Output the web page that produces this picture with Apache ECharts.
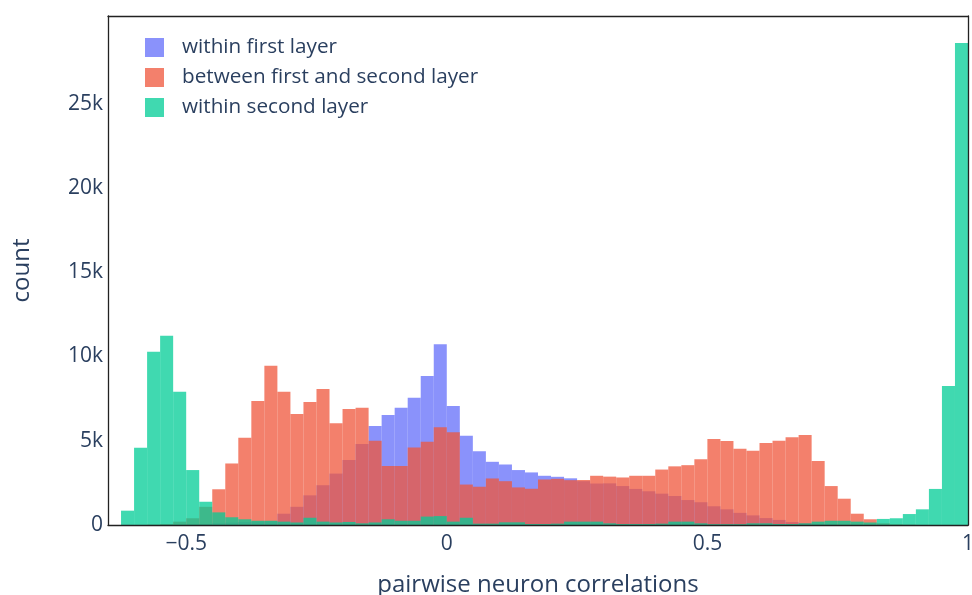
<!DOCTYPE html>
<html>
<head>
<meta charset="utf-8">
<script src="https://cdn.jsdelivr.net/npm/echarts@6/dist/echarts.min.js"></script>
<style>
html,body{margin:0;padding:0;background:#fff;}
#chart{width:972px;height:595px;}
</style>
</head>
<body>
<div id="chart"></div>
<script>
// ---- data ----
var binWidth = 0.025;
var binStarts = [-0.65,-0.625,-0.6,-0.575,-0.55,-0.525,-0.5,-0.475,-0.45,-0.425,-0.4,-0.375,-0.35,-0.325,-0.3,-0.275,-0.25,-0.225,-0.2,-0.175,-0.15,-0.125,-0.1,-0.075,-0.05,-0.025,
  0,0.025,0.05,0.075,0.1,0.125,0.15,0.175,0.2,0.225,0.25,0.275,0.3,0.325,0.35,0.375,0.4,0.425,0.45,0.475,0.5,0.525,0.55,0.575,0.6,0.625,0.65,0.675,0.7,0.725,0.75,0.775,0.8,0.825,0.85,0.875,0.9,0.925,0.95,0.975];
var withinFirst = [0,0,0,0,10,20,40,60,100,140,180,200,220,670,1080,1760,2360,3050,3850,4800,5870,6520,6960,7550,8840,10720,
  7060,5290,4380,3750,3590,3260,3120,2920,2860,2770,2600,2460,2470,2310,2140,2000,1860,1720,1480,1350,1110,930,720,570,410,300,170,100,60,30,20,10,0,0,0,0,0,0,0,0];
var betweenLayers = [0,0,0,20,50,200,400,1080,2120,3650,5180,7350,9450,7900,6580,7300,8070,6030,6880,6960,5000,3500,3500,4600,4940,5800,
  5500,2400,2270,2760,2600,2230,2150,2700,2740,2660,2670,2920,2870,2820,2920,2920,3290,3480,3550,3900,5100,4980,4530,4410,4870,5000,5200,5340,3800,2310,1560,670,340,100,40,20,0,0,0,0];
var withinSecond = [0,850,4580,10280,11230,7900,3260,1380,750,460,340,250,250,200,150,430,200,150,180,100,150,340,250,250,500,530,
  200,430,80,80,160,160,60,60,80,200,200,200,100,60,60,60,80,200,200,100,50,50,50,100,100,60,60,100,200,250,250,200,150,360,400,650,930,2140,8240,28600];
var seriesNames = ['within first layer','between first and second layer','within second layer'];
var xTickValues = [-0.5, 0, 0.5, 1];
var xTickLabels = ['\u22120.5', '0', '0.5', '1'];
var yTickValues = [0, 5000, 10000, 15000, 20000, 25000];
var yTickLabels = ['0', '5k', '10k', '15k', '20k', '25k'];

// ---- chart ----
var colors = ['rgba(99,110,250,0.75)', 'rgba(239,85,59,0.75)', 'rgba(0,204,150,0.75)'];
var textColor = '#2a3f5f';
var fontFamily = '"Open Sans", "DejaVu Sans", Arial, sans-serif';

function makeSeries(name, counts, color) {
  return {
    name: name,
    type: 'custom',
    xAxisIndex: 0,
    yAxisIndex: 0,
    clip: true,
    itemStyle: { color: color },
    data: binStarts.map(function (b, i) { return [b, counts[i]]; }),
    encode: { x: 0, y: 1 },
    renderItem: function (params, api) {
      var x0 = api.value(0);
      var c = api.value(1);
      var pTop = api.coord([x0, c]);
      var pBot = api.coord([x0 + binWidth, 0]);
      return {
        type: 'rect',
        shape: { x: pTop[0], y: pTop[1], width: pBot[0] - pTop[0], height: pBot[1] - pTop[1] },
        style: { fill: color }
      };
    }
  };
}

var chart = echarts.init(document.getElementById('chart'), null, { renderer: 'canvas' });
var axisLineStyle = { color: '#222', width: 1.3 };
chart.setOption({
  animation: false,
  backgroundColor: '#fff',
  textStyle: { fontFamily: fontFamily },
  grid: { left: 108, right: 4, top: 16, bottom: 70, containLabel: false, outerBoundsMode: 'none' },
  legend: {
    orient: 'vertical',
    left: 140,
    top: 32,
    itemWidth: 19,
    itemHeight: 19,
    itemGap: 9,
    data: seriesNames.map(function (n) { return { name: n, icon: 'rect' }; }),
    textStyle: { color: textColor, fontSize: 20.7, lineHeight: 19, fontFamily: fontFamily, padding: [0, 0, 0, 13] }
  },
  xAxis: [{
    type: 'value', position: 'bottom', min: -0.65, max: 1.0, z: 10,
    name: 'pairwise neuron correlations', nameLocation: 'middle', nameGap: 48,
    nameTextStyle: { color: textColor, fontSize: 24, fontFamily: fontFamily },
    axisLine: { show: true, onZero: false, lineStyle: axisLineStyle },
    axisTick: { show: false },
    splitLine: { show: false },
    axisLabel: {
      customValues: xTickValues, color: textColor, fontSize: 21, margin: 9, fontFamily: fontFamily,
      formatter: function (v) { var i = xTickValues.indexOf(v); return i >= 0 ? xTickLabels[i] : ''; }
    }
  }, {
    type: 'value', position: 'top', min: -0.65, max: 1.0, z: 10,
    axisLine: { show: true, onZero: false, lineStyle: axisLineStyle },
    axisTick: { show: false }, axisLabel: { show: false }, splitLine: { show: false }
  }],
  yAxis: [{
    type: 'value', position: 'left', min: 0, max: 30200, z: 10,
    name: 'count', nameLocation: 'middle', nameGap: 74,
    nameTextStyle: { color: textColor, fontSize: 24, fontFamily: fontFamily },
    axisLine: { show: true, onZero: false, lineStyle: axisLineStyle },
    axisTick: { show: false },
    splitLine: { show: false },
    axisLabel: {
      customValues: yTickValues, color: textColor, fontSize: 21, margin: 5, fontFamily: fontFamily,
      formatter: function (v) { var i = yTickValues.indexOf(v); return i >= 0 ? yTickLabels[i] : ''; }
    }
  }, {
    type: 'value', position: 'right', min: 0, max: 30200, z: 10,
    axisLine: { show: true, onZero: false, lineStyle: axisLineStyle },
    axisTick: { show: false }, axisLabel: { show: false }, splitLine: { show: false }
  }],
  series: [
    makeSeries(seriesNames[0], withinFirst, colors[0]),
    makeSeries(seriesNames[1], betweenLayers, colors[1]),
    makeSeries(seriesNames[2], withinSecond, colors[2])
  ]
});
</script>
</body>
</html>
